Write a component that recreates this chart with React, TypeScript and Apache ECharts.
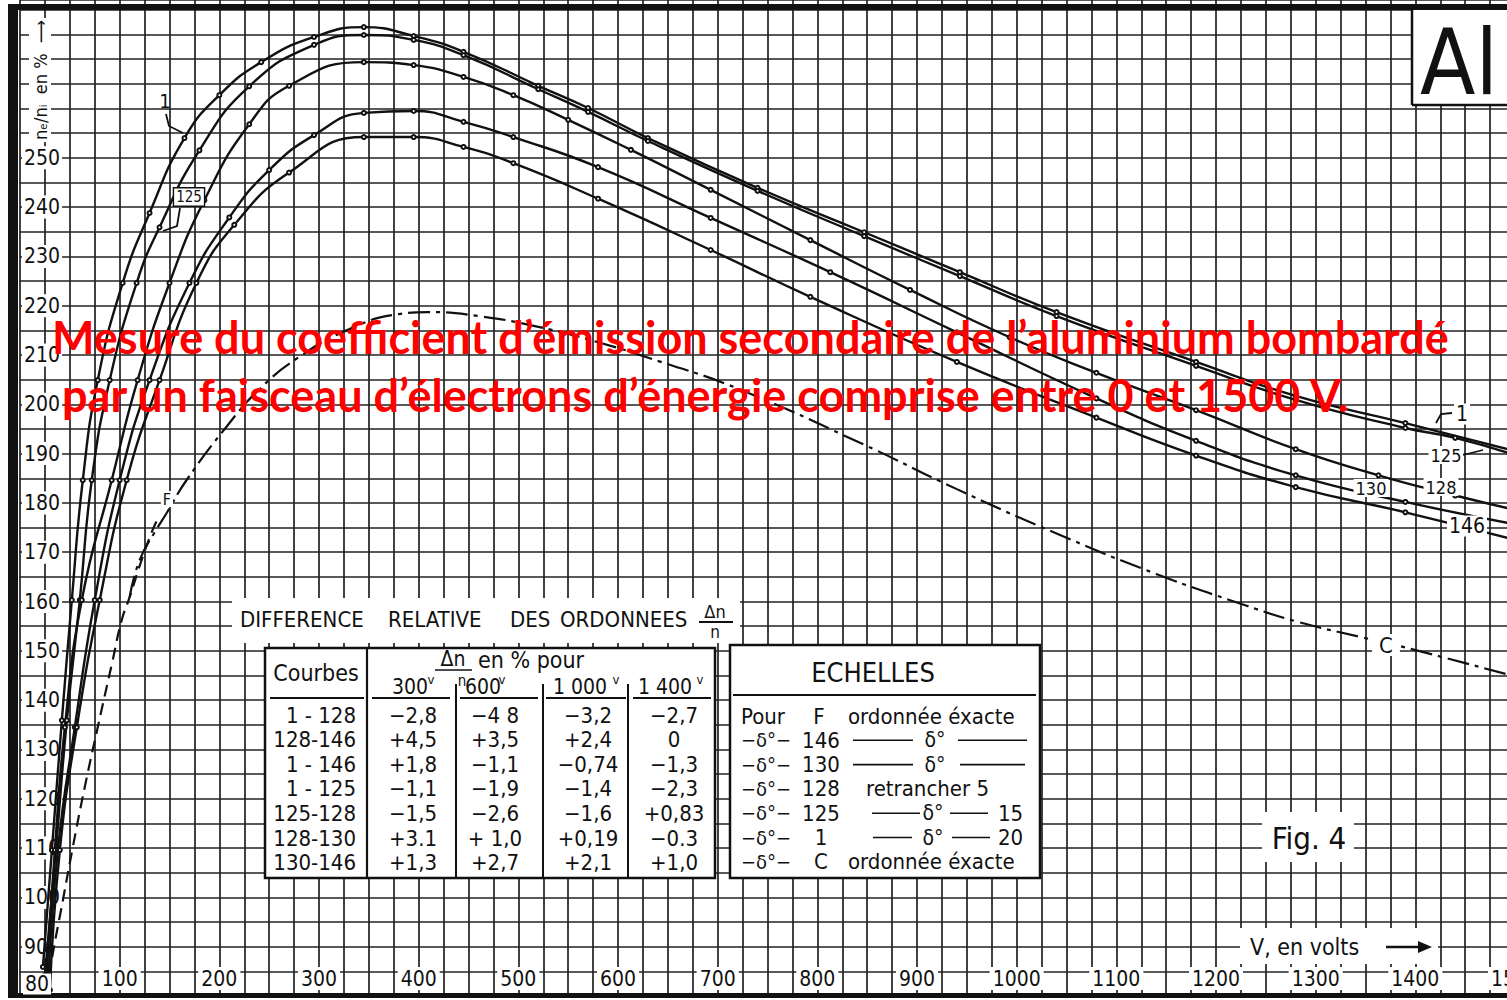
import React, { useEffect, useRef } from 'react';
import * as echarts from 'echarts';

// ---- Curve data: [V (volts), n_s/n_i (%)] ----
const curve1 = [
  [23, 85.9], [32, 109.6], [42, 135.9], [52, 160.3], [63, 184.6], [78, 204.9], [103, 224.6],
  [130, 238.8], [165, 254.0], [200, 262.7], [242, 269.4], [295, 274.5], [345, 276.5],
  [395, 274.7], [445, 271.5], [520, 264.6], [570, 260.1], [630, 254.0], [740, 243.9],
  [847, 234.9], [943, 226.8], [1040, 218.7], [1180, 208.6], [1280, 201.7], [1390, 196.2], [1500, 190.5],
];
const curve125 = [
  [25, 84.2], [36, 109.6], [47, 135.9], [60, 160.3], [72, 184.6], [90, 204.9], [117, 224.6],
  [140, 235.9], [180, 251.5], [230, 264.5], [295, 272.9], [345, 274.9], [395, 273.9], [445, 270.8],
  [520, 263.9], [570, 259.3], [630, 253.4], [740, 243.3], [847, 234.1], [943, 226.0],
  [1040, 217.9], [1180, 207.8], [1280, 200.9], [1390, 195.2], [1440, 193.2], [1500, 189.7],
];
const curve128 = [
  [26, 82.2], [35, 109.6], [45, 134.5], [62, 160.3], [92, 184.6], [118, 204.9], [150, 224.6],
  [185, 241.4], [230, 256.8], [270, 264.6], [345, 269.4], [395, 268.8], [445, 266.4],
  [495, 262.7], [550, 257.7], [613, 251.6], [693, 243.5], [793, 233.3], [893, 223.2], [993, 213.6],
  [1080, 206.4], [1180, 198.8], [1280, 190.9], [1363, 185.6], [1440, 181.5], [1500, 178.6],
];
const curve130 = [
  [28, 81.2], [38, 109.6], [55, 134.5], [75, 160.3], [100, 184.6], [130, 204.9], [170, 224.6],
  [210, 237.9], [250, 247.5], [295, 254.6], [345, 259.1], [395, 259.5], [445, 257.3], [495, 254.2],
  [580, 248.1], [693, 237.8], [813, 226.8], [940, 214.6], [1080, 201.2], [1180, 192.6], [1280, 185.6],
  [1390, 180.2], [1500, 175.7],
];
const curve146 = [
  [30, 81.2], [40, 109.6], [57, 134.5], [80, 160.3], [107, 184.6], [140, 204.9], [177, 224.6],
  [215, 236.4], [270, 247.0], [345, 254.2], [395, 254.2], [445, 252.2], [495, 248.9],
  [580, 241.7], [693, 231.3], [793, 221.8], [940, 208.6], [1080, 197.3], [1180, 189.6], [1280, 183.2],
  [1390, 178.1], [1500, 172.5],
];
const curveF = [
  [27, 80.2], [30, 85.2], [43, 99.4], [53, 110.2], [65, 122.4], [78, 134.5], [93, 148.1],
  [102, 156.2], [110, 160.9], [122, 168.4], [133, 174.5], [139, 177.0],
];
const curveC = [
  [110, 160.9], [120, 168.4], [135, 174.0], [147, 177.9], [167, 184.6], [207, 195.4],
  [240, 203.0], [280, 209.6], [330, 215.2], [380, 218.3], [410, 218.7], [460, 217.9], [520, 215.7],
  [580, 212.6], [643, 208.6], [720, 203.2], [847, 191.8], [940, 182.8], [1040, 173.8], [1140, 165.6],
  [1230, 159.2], [1280, 156.0], [1345, 152.8], [1380, 151.2], [1500, 144.8],
];

// ---- Tick labels ----
const xLabelValues = [100, 200, 300, 400, 500, 600, 700, 800, 900, 1000, 1100, 1200, 1300, 1400, 1500];
const yLabelValues = [90, 100, 110, 120, 130, 140, 150, 160, 170, 180, 190, 200, 210, 220, 230, 240, 250];

// ---- Table "Différence relative des ordonnées" ----
const tableCurves = ['1 - 128', '128-146', '1 - 146', '1 - 125', '125-128', '128-130', '130-146'];
const col300 = ['−2,8', '+4,5', '+1,8', '−1,1', '−1,5', '+3.1', '+1,3'];
const col600 = ['−4 8', '+3,5', '−1,1', '−1,9', '−2,6', '+ 1,0', '+2,7'];
const col1000 = ['−3,2', '+2,4', '−0,74', '−1,4', '−1,6', '+0,19', '+2,1'];
const col1400 = ['−2,7', '0', '−1,3', '−2,3', '+0,83', '−0.3', '+1,0'];
const colHeads = ['300', '600', '1 000', '1 400'];

// ---- Echelles ----
const echellesF = ['146', '130', '128', '125', '1', 'C'];

const FF = "'DejaVu Sans Condensed','DejaVu Sans',sans-serif";
const INK = '#111';

function txt(text: string, x: number, y: number, size: number, opt: any = {}) {
  const style: any = {
    text,
    fill: opt.color ?? INK,
    fontSize: size,
    fontFamily: opt.font ?? FF,
    fontWeight: opt.weight ?? 'normal',
    align: opt.align ?? 'left',
    verticalAlign: opt.valign ?? 'middle',
  };
  if (opt.bg) style.backgroundColor = opt.bg;
  if (opt.pad) style.padding = opt.pad;
  if (opt.border) { style.borderColor = opt.border; style.borderWidth = opt.bw ?? 1.5; }
  return { type: 'text', x, y, z: opt.z ?? 60, rotation: opt.rotation ?? 0, silent: true, style };
}
function rect(x: number, y: number, w: number, h: number, fill: string, stroke?: string, lw = 2.5, z = 50) {
  return {
    type: 'rect', z, silent: true, shape: { x, y, width: w, height: h },
    style: { fill, stroke: stroke ?? 'none', lineWidth: stroke ? lw : 0 },
  };
}
function ln(x1: number, y1: number, x2: number, y2: number, lw = 2, z = 55) {
  return { type: 'line', z, silent: true, shape: { x1, y1, x2, y2 }, style: { stroke: INK, lineWidth: lw } };
}
function pl(points: number[][], lw = 1.8, z = 60) {
  return { type: 'polyline', z, silent: true, shape: { points }, style: { stroke: INK, lineWidth: lw, fill: 'none' } };
}

function buildGraphics() {
  const g: any[] = [];
  // scan borders
  g.push(rect(8, 4, 10, 994, INK, undefined, 0, 40));
  g.push(rect(8, 4, 1499, 6, INK, undefined, 0, 40));
  g.push(rect(8, 993, 1499, 5, INK, undefined, 0, 40));

  // y-axis title (rotated)
  g.push(txt('nₑ/nᵢ  en %  ⟶', 40, 80, 18, { align: 'center', rotation: Math.PI / 2, bg: '#fff', pad: [2, 2] }));
  g.push(txt('80', 23, 984, 21, { bg: '#fff', pad: [0, 2] }));

  // "Al" box
  g.push(rect(1412, 10, 100, 95, '#fff', undefined, 0, 50));
  g.push(ln(1412, 10, 1412, 105, 2.5));
  g.push(ln(1412, 105, 1507, 105, 2.5));
  g.push(txt('Al', 1459, 62, 90, { align: 'center' }));

  // Fig. 4
  g.push(rect(1262, 812, 92, 50, '#fff', undefined, 0, 50));
  g.push(txt('Fig. 4', 1309, 838, 31, { align: 'center' }));

  // V, en volts ->
  g.push(rect(1240, 928, 198, 36, '#fff', undefined, 0, 50));
  g.push(txt('V, en volts', 1250, 947, 23));
  g.push(ln(1386, 947, 1424, 947, 2.5));
  g.push({ type: 'polygon', z: 60, silent: true, shape: { points: [[1432, 947], [1418, 941], [1418, 953]] }, style: { fill: INK } });

  // Header band
  g.push(rect(232, 598, 508, 45, '#fff', undefined, 0, 50));
  g.push(txt('DIFFERENCE', 240, 619, 22));
  g.push(txt('RELATIVE', 388, 619, 22));
  g.push(txt('DES', 510, 619, 22));
  g.push(txt('ORDONNEES', 560, 619, 22));
  g.push(txt('Δn', 715, 611, 18, { align: 'center' }));
  g.push(ln(699, 622, 733, 622, 1.8));
  g.push(txt('n', 715, 632, 17, { align: 'center' }));

  // Table box
  g.push(rect(265, 648, 450, 230, '#fff', INK, 2.5, 50));
  g.push(ln(367, 648, 367, 878, 2.2));
  [456, 543, 628].forEach((x) => g.push(ln(x, 684, x, 878, 2)));
  [[270, 364], [372, 450], [460, 538], [546, 626], [633, 711]].forEach(([a, b]) => g.push(ln(a, 698, b, 698, 1.8)));
  g.push(txt('Courbes', 316, 673, 23, { align: 'center' }));
  g.push(txt('Δn', 453, 659, 21, { align: 'center' }));
  g.push(ln(435, 670, 472, 670, 1.6));
  g.push(txt('n', 462, 681, 15, { align: 'center' }));
  g.push(txt('en % pour', 478, 660, 23));
  const headX = [410, 483, 580, 665];
  colHeads.forEach((h, i) => {
    g.push(txt(h, headX[i], 687, 21, { align: 'center' }));
  });
  [431, 502, 616, 700].forEach((x) => g.push(txt('v', x, 679, 13, { align: 'center' })));
  const colX = [413, 495, 588, 674];
  const cols = [col300, col600, col1000, col1400];
  tableCurves.forEach((c, i) => {
    const y = 715 + i * 24.6;
    g.push(txt(c, 356, y, 22, { align: 'right' }));
    cols.forEach((col, j) => g.push(txt(col[i], colX[j], y, 22, { align: 'center' })));
  });

  // Echelles box
  g.push(rect(730, 645, 310, 233, '#fff', INK, 2.5, 50));
  g.push(ln(733, 695, 1036, 695, 1.8));
  g.push(txt('ECHELLES', 873, 672, 27, { align: 'center' }));
  const ey = (i: number) => 716 + i * 24.3;
  g.push(txt('Pour', 741, ey(0), 22));
  g.push(txt('F', 819, ey(0), 22, { align: 'center' }));
  g.push(txt('ordonnée éxacte', 848, ey(0), 22));
  echellesF.forEach((f, k) => {
    const y = ey(k + 1);
    g.push(txt('−δ°−', 741, y, 20));
    g.push(txt(f, 821, y, 22, { align: 'center' }));
  });
  // row details
  g.push(ln(853, ey(1), 913, ey(1), 1.6)); g.push(txt('δ°', 935, ey(1), 21, { align: 'center' })); g.push(ln(958, ey(1), 1027, ey(1), 1.6));
  g.push(ln(853, ey(2), 913, ey(2), 1.6)); g.push(txt('δ°', 935, ey(2), 21, { align: 'center' })); g.push(ln(960, ey(2), 1025, ey(2), 1.6));
  g.push(txt('retrancher 5', 866, ey(3), 22));
  g.push(ln(872, ey(4), 920, ey(4), 1.6)); g.push(txt('δ°', 933, ey(4), 21, { align: 'center' })); g.push(ln(950, ey(4), 988, ey(4), 1.6));
  g.push(txt('15', 998, ey(4), 22));
  g.push(ln(873, ey(5), 912, ey(5), 1.6)); g.push(txt('δ°', 933, ey(5), 21, { align: 'center' })); g.push(ln(952, ey(5), 990, ey(5), 1.6));
  g.push(txt('20', 998, ey(5), 22));
  g.push(txt('ordonnée éxacte', 848, ey(6), 22));

  // curve labels (left)
  g.push(txt('1', 165, 101, 20, { align: 'center' }));
  g.push(pl([[166, 114], [169, 126], [183, 133]]));
  g.push(txt('125', 189, 197, 15, { align: 'center', bg: '#fff', pad: [1, 2], border: INK, bw: 1.4 }));
  g.push(pl([[180, 208], [177, 226], [163, 231]]));
  g.push(txt('F', 167, 499, 16, { align: 'center', bg: '#fff', pad: [0, 2] }));
  // curve labels (right)
  g.push(txt('1', 1462, 414, 21, { align: 'center', bg: '#fff', pad: [0, 2] }));
  g.push(pl([[1436, 423], [1441, 414], [1452, 413]]));
  g.push(txt('125', 1446, 455, 18, { align: 'center', bg: '#fff', pad: [0, 2] }));
  g.push(ln(1463, 455, 1483, 450, 1.8, 60));
  g.push(txt('128', 1441, 487, 18, { align: 'center', bg: '#fff', pad: [0, 2] }));
  g.push(txt('130', 1371, 488, 18, { align: 'center', bg: '#fff', pad: [0, 2] }));
  g.push(txt('146', 1467, 526, 21, { align: 'center', bg: '#fff', pad: [0, 2] }));
  g.push(txt('C', 1386, 645, 22, { align: 'center', bg: '#fff', pad: [0, 7] }));

  // red title overlay
  g.push(txt('Mesure du coefficient d’émission secondaire de l’aluminium bombardé', 52, 337, 45,
    { color: '#ff0000', font: 'Lato, Carlito, sans-serif', weight: 'bold', z: 100 }));
  g.push(txt('par un faisceau d’électrons d’énergie comprise entre 0 et 1500 V.', 62, 395, 45,
    { color: '#ff0000', font: 'Lato, Carlito, sans-serif', weight: 'bold', z: 100 }));
  return g;
}

function solid(name: string, data: number[][]) {
  return {
    name, type: 'line', data, smooth: 0.5,
    symbol: 'emptyCircle', symbolSize: 4, showSymbol: true,
    lineStyle: { color: INK, width: 2.4 },
    itemStyle: { color: INK, borderWidth: 1 },
    z: 5, silent: true,
  };
}

export default function App() {
  const ref = useRef<HTMLDivElement>(null);
  useEffect(() => {
    document.body.style.margin = '0';
    if (!ref.current) return;
    const chart = echarts.init(ref.current, null, { renderer: 'svg' });
    const axisLabelBase = {
      inside: true, color: INK, fontSize: 21, fontFamily: FF,
      backgroundColor: '#fff',
      formatter: (v: number) => String(v),
    };
    chart.setOption({
      animation: false,
      backgroundColor: '#fff',
      grid: { left: 20, top: 0, width: 1495, height: 996, containLabel: false, outerBoundsMode: 'none' },
      xAxis: {
        type: 'value', min: 0, max: 1500, interval: 25,
        axisLine: { show: false }, axisTick: { show: false },
        splitLine: { show: true, lineStyle: { color: '#222', width: 1.7 } },
        axisLabel: { ...axisLabelBase, margin: 6, padding: [1, 3, 1, 3], customValues: xLabelValues },
      },
      yAxis: {
        type: 'value', min: 80, max: 282, interval: 5,
        axisLine: { show: false }, axisTick: { show: false },
        splitLine: { show: true, lineStyle: { color: '#222', width: 1.7 } },
        axisLabel: { ...axisLabelBase, margin: 2, padding: [1, 2, 1, 2], customValues: yLabelValues },
      },
      series: [
        solid('1', curve1),
        solid('125', curve125),
        solid('128', curve128),
        solid('130', curve130),
        solid('146', curve146),
        {
          name: 'F', type: 'line', data: curveF, smooth: 0.5, symbol: 'none',
          lineStyle: { color: INK, width: 2.2, type: [12, 7] }, z: 5, silent: true,
        },
        {
          name: 'C', type: 'line', data: curveC, smooth: 0.5, symbol: 'none',
          lineStyle: { color: INK, width: 2.2, type: [22, 6, 4, 6] }, z: 5, silent: true,
        },
      ],
      graphic: { elements: buildGraphics() },
    });
    return () => chart.dispose();
  }, []);
  return <div ref={ref} style={{ width: 1507, height: 1000 }} />;
}
